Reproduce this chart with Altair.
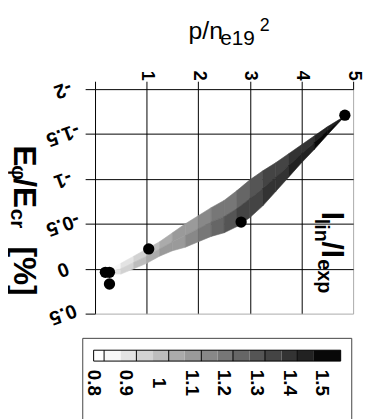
import altair as alt
import pandas as pd

FONT = "Liberation Sans"

# ---- data ----
band_x = [0.25, 0.5, 0.75, 1.0, 1.25, 1.5, 1.75, 2.0, 2.25, 2.5, 2.75, 3.0, 3.25, 3.5, 3.75, 4.0, 4.25, 4.5, 4.84]
band_upper = [0.02, -0.06, -0.14, -0.22, -0.30, -0.40, -0.50, -0.59, -0.68, -0.76, -0.87, -0.99, -1.09, -1.18, -1.28, -1.38, -1.48, -1.58, -1.70]
band_lower = [0.06, 0.06, 0.00, -0.06, -0.14, -0.20, -0.24, -0.30, -0.36, -0.40, -0.47, -0.57, -0.70, -0.86, -1.02, -1.18, -1.33, -1.49, -1.70]
seg_val_upper = [0.86, 0.90, 0.95, 1.00, 1.05, 1.10, 1.12, 1.15, 1.18, 1.20, 1.25, 1.30, 1.35, 1.37, 1.40, 1.42, 1.45, 1.47]
seg_val_lower = [0.90, 0.95, 1.00, 1.05, 1.10, 1.12, 1.15, 1.20, 1.25, 1.30, 1.35, 1.37, 1.40, 1.42, 1.45, 1.45, 1.50, 1.52]

pt_x = [0.20, 0.28, 0.28, 1.04, 2.83, 4.84]
pt_y = [0.04, 0.04, 0.17, -0.22, -0.52, -1.71]

x_ticks = [0, 1, 2, 3, 4, 5]
y_ticks = [-2, -1.5, -1, -0.5, 0, 0.5]

cb_edges = [0.80, 0.832, 0.883, 0.931, 0.982, 1.03, 1.079, 1.13, 1.18, 1.227, 1.278, 1.325, 1.376, 1.424, 1.475, 1.557]
cb_greys = ["#ffffff", "#f8f8f8", "#e3e3e3", "#d2d2d2", "#bdbdbd", "#ababab", "#9a9a9a", "#888888",
            "#777777", "#666666", "#555555", "#444444", "#333333", "#222222", "#080808"]
cb_ticks = [0.8, 0.9, 1.0, 1.1, 1.2, 1.3, 1.4, 1.5]
cb_lines = [0.832, 0.931, 1.03, 1.13, 1.227, 1.325, 1.424]

# ---- tables ----
rows = []
for i in range(len(band_x) - 1):
    for j in (i, i + 1):
        mid = (band_upper[j] + band_lower[j]) / 2
        rows.append(dict(seg=f"u{i}", x=band_x[j], y=band_upper[j], y2=mid, v=seg_val_upper[i]))
        rows.append(dict(seg=f"l{i}", x=band_x[j], y=mid, y2=band_lower[j], v=seg_val_lower[i]))
band = pd.DataFrame(rows)
pts = pd.DataFrame({"x": pt_x, "y": pt_y})
cb = pd.DataFrame({"lo": cb_edges[:-1], "hi": cb_edges[1:]})
cb["mid"] = (cb["lo"] + cb["hi"]) / 2
cbl = pd.DataFrame({"b": cb_lines})
cbt = pd.DataFrame({"t": cb_ticks})

grey = alt.Scale(type="threshold", domain=cb_edges[1:-1], range=cb_greys)

W, H = 261, 227
xs = alt.Scale(domain=[0, 5], nice=False, zero=False)
ys = alt.Scale(domain=[-2, 0.5], nice=False, zero=False, reverse=True)

xaxis = alt.Axis(orient="top", values=x_ticks, title=None, domain=False,
                 labelExpr="datum.value == 0 ? '' : datum.label",
                 labelAngle=90, labelAlign="right", labelBaseline="middle",
                 labelFont=FONT, labelFontSize=18, labelFontWeight="bold", labelColor="black",
                 labelPadding=1, tickSize=8, tickColor="black", labelOverlap=False,
                 grid=True, gridOpacity=1,
                 gridColor={"condition": {"test": "datum.value == 5", "value": "#aaaaaa"}, "value": "black"})
yaxis = alt.Axis(orient="left", values=y_ticks, title=None, domain=False,
                 labelExpr="'' + datum.value",
                 labelAngle=160, labelAlign="center", labelBaseline="middle",
                 labelFont=FONT, labelFontSize=20, labelFontWeight="bold", labelColor="black",
                 labelPadding=23, tickSize=10, tickColor="black", labelOverlap=False,
                 grid=True, gridOpacity=1,
                 gridColor={"condition": {"test": "datum.value == 0.5", "value": "#aaaaaa"}, "value": "black"})

area = alt.Chart(band).mark_area(strokeWidth=0.6).encode(
    x=alt.X("x:Q", scale=xs, axis=xaxis),
    y=alt.Y("y:Q", scale=ys, axis=yaxis),
    y2="y2:Q",
    detail="seg:N",
    color=alt.Color("v:Q", scale=grey, legend=None),
    stroke=alt.Stroke("v:Q", scale=grey, legend=None),
)
dots = alt.Chart(pts).mark_circle(size=130, color="black", opacity=1).encode(
    x=alt.X("x:Q", scale=xs), y=alt.Y("y:Q", scale=ys))

one = pd.DataFrame({"k": [0]})


def txt(s, x, y, size, angle=90, weight="bold"):
    return alt.Chart(one).mark_text(text=s, font=FONT, fontSize=size, fontWeight=weight,
                                    angle=angle, align="left", baseline="alphabetic",
                                    color="black").encode(x=alt.value(x), y=alt.value(y))


texts = [
    # x title  p/n_e19^2
    txt("p/n", 94.6, -51, 25, angle=0, weight="normal"),
    txt("e19", 126.6, -45, 21, angle=0, weight="normal"),
    txt("2", 166.6, -59, 18, angle=0, weight="normal"),
    # y title  E_phi/E_cr [%]
    txt("E", -82.4, 57, 32),
    txt("\u03c6", -84.4, 77, 21),
    txt("/E", -82.4, 90, 32),
    txt("cr", -85.4, 121, 21),
    txt("[%]", -82.4, 159, 32),
    # in-plot label l_lin/l_exp
    txt("l", 229.6, 124, 30),
    txt("lin", 222.6, 131, 20),
    txt("/l", 229.6, 154, 30),
    txt("exp", 225.6, 172, 20),
]

main = alt.layer(area, dots, *texts).properties(width=W, height=H)

# colour bar: swatches, separators, outline and tick labels
cb_x = alt.Scale(domain=[0.8, 1.5], range=[-1.4, 229.6], nice=False, zero=False)
swatch = alt.Chart(cb).mark_rect().encode(
    x=alt.X("lo:Q", scale=cb_x, axis=None),
    x2="hi:Q",
    color=alt.Color("mid:Q", scale=grey, legend=None),
)
outline = alt.Chart(cb).mark_rect(fill=None, stroke="black", strokeWidth=1).encode(
    x=alt.X("min(lo):Q", scale=cb_x, axis=None), x2="max(hi):Q")
seps = alt.Chart(cbl).mark_rule(color="black", strokeWidth=1).encode(
    x=alt.X("b:Q", scale=cb_x, axis=None))
cb_labels = alt.Chart(cbt).transform_calculate(lab="'' + datum.t").mark_text(
    font=FONT, fontSize=19, fontWeight="bold", angle=90, align="center", baseline="middle",
    color="black").encode(
    x=alt.X("t:Q", scale=cb_x, axis=None), y=alt.value(33), text="lab:N")
box = alt.Chart(one).mark_rect(fill=None, stroke="#444444", strokeWidth=1).encode(
    x=alt.value(-12.4), x2=alt.value(259.6), y=alt.value(-12), y2=alt.value(200))

colorbar = alt.layer(box, swatch, seps, outline, cb_labels).properties(width=231, height=11)

chart = alt.vconcat(main, colorbar, spacing=9).properties(
    padding={"left": -2, "top": 6, "right": 2, "bottom": 0}
).configure_view(stroke=None)

chart.save("out.html", embed_options={"renderer": "svg", "actions": False})
